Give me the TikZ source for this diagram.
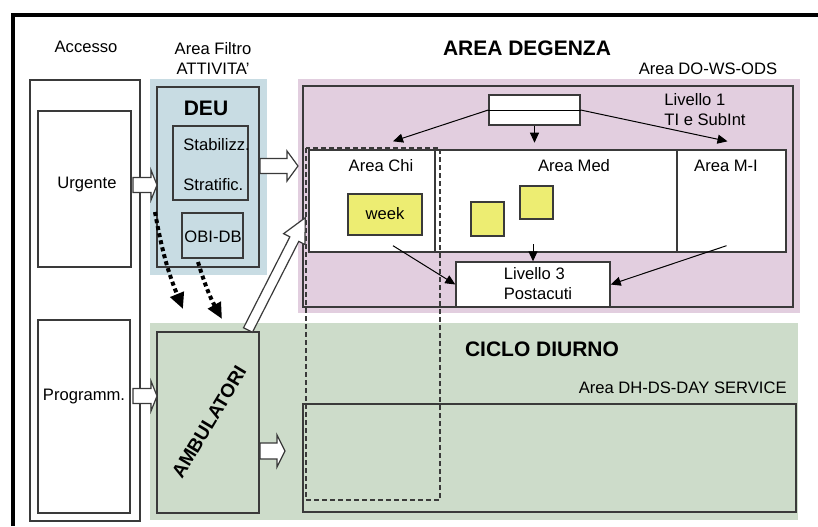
\documentclass[tikz,border=0pt]{standalone}
\usepackage{fontspec}
\setmainfont{Liberation Sans}
\usetikzlibrary{arrows.meta, positioning, fit, calc}
\definecolor{deufill}{HTML}{C8DCE3}
\definecolor{degfill}{HTML}{E2CEDF}
\definecolor{dayfill}{HTML}{CDDCCA}
\definecolor{postit}{HTML}{EDED72}
\definecolor{boxline}{HTML}{3A3A3A}
\tikzset{
  bg/.style    = {inner sep=0pt, draw=none},
  box/.style   = {draw=boxline, line width=0.7pt, inner sep=0pt},
  wbox/.style  = {box, fill=white},
  note/.style  = {box, fill=postit},
  txt/.style   = {font=\fontsize{8.3}{10}\selectfont, inner sep=0pt},
  hdr/.style   = {font=\fontsize{10.5}{12}\selectfont\bfseries, inner sep=0pt},
  thinarr/.style = {-{Triangle[length=5pt, width=4.5pt]}, line width=0.5pt, draw=black},
  dotarr/.style  = {-{Triangle[length=8pt, width=7pt]}, line width=2pt,
                    dash pattern=on 2pt off 1.6pt, line cap=butt},
  fatarr/.style  = {draw=boxline, fill=white, line width=0.6pt, line join=miter},
}
% start, angle, length, shaft half, head half, head length
\newcommand{\fatarrow}[6]{%
  \draw[fatarr, shift={(#1)}, rotate=#2]
    (0,-#4) -- ({#3-#6},-#4) -- ({#3-#6},-#5) -- (#3,0) -- ({#3-#6},#5)
    -- ({#3-#6},#4) -- (0,#4) -- cycle;}
\begin{document}
\begin{tikzpicture}[x=0.5pt, y=-0.5pt]
  \useasboundingbox (0,0) rectangle (818,526);
  \fill[white] (0,0) rectangle (818,526);
  % outer frame
  \draw[line width=2pt] (13,526) -- (13,15) -- (818,15);
  % coloured areas
  \node[bg, fit={(150,79) (267,275)}, fill=deufill] (deubg) {};
  \node[bg, fit={(298,79) (800,313)}, fill=degfill] (degbg) {};
  \node[bg, fit={(150,323) (798,520)}, fill=dayfill] (daybg) {};
  % accesso column
  \node[box, fit={(30,80) (140,521)}] (acc) {};
  \node[box, fit={(38,111) (131,267)}] (urg) {};
  \node[box, fit={(38,320) (130,513)}] (prog) {};
  \node[txt] at (86,47) {Accesso};
  \node[txt] at (87,185) {Urgente};
  \node[txt] at (84,396) {Programm.};
  % area filtro
  \node[txt, align=center] at (213,58) {Area Filtro\\ATTIVITA'};
  \node[box, fit={(157,87) (259,267)}] (deu) {};
  \node[hdr] at (206,108) {DEU};
  \node[box, fit={(173,126) (248,200)}] (stab) {};
  \node[txt, anchor=west] at (183,145) {Stabilizz.};
  \node[txt, anchor=west] at (183,185) {Stratific.};
  \node[box, fit={(182,213) (243,258)}] (obi) {};
  \node[txt] at (213,237) {OBI-DB};
  % area degenza
  \node[hdr] at (527,48) {AREA DEGENZA};
  \node[txt] at (708,69) {Area DO-WS-ODS};
  \node[box, fit={(303,86) (793,307)}] (deg) {};
  \node[wbox, fit={(489,95) (580,125)}] (lv1) {};
  \draw[line width=0.5pt] (lv1.west) -- (lv1.east);
  \node[txt, align=left, anchor=west] at (664,110) {Livello 1\\TI e SubInt};
  \node[wbox, fit={(309,150) (435,252)}] (chi) {};
  \node[wbox, fit={(435,150) (677,252)}] (med) {};
  \node[wbox, fit={(677,150) (786,252)}] (mi) {};
  \node[txt] at (381,166) {Area Chi};
  \node[txt] at (574,166) {Area Med};
  \node[txt] at (726,166) {Area M-I};
  \node[note, fit={(348,194) (422,235)}] (week) {};
  \node[txt] at (385,214) {week};
  \node[note, fit={(471,202) (504,236)}] (sqa) {};
  \node[note, fit={(520,186) (553,219)}] (sqb) {};
  \node[wbox, fit={(456,262) (610,307)}] (lv3) {};
  \node[txt, align=left] at (538,284) {Livello 3\\Postacuti};
  \draw[thinarr] (lv1.west) -- ($(chi.north)+(21,-8)$);
  \draw[thinarr] (lv1.south) -- ($(lv1.south)+(0,17)$);
  \draw[thinarr] (lv1.east) -- ($(mi.north)+(-4,-8)$);
  \draw[thinarr] ($(chi.south)+(21,-7)$) -- (lv3.west);
  \draw[thinarr] ($(lv3.north)+(0,-17)$) -- (lv3.north);
  \draw[thinarr] ($(mi.south)+(-5,-7)$) -- (lv3.east);
  % ciclo diurno
  \node[hdr] at (542,349) {CICLO DIURNO};
  \node[txt, anchor=east] at (787,388) {Area DH-DS-DAY SERVICE};
  \node[box, fit={(157,332) (259,513)}] (amb) {};
  \node[hdr, font=\fontsize{9.5}{11}\selectfont\bfseries, rotate=59] at (209,422) {AMBULATORI};
  \node[box, fit={(303,404) (796,512)}] (dh) {};
  % dashed link
  \draw[boxline, line width=0.6pt, dash pattern=on 2.5pt off 1.5pt] (306,148) rectangle (440,500);
  % block arrows
  \fatarrow{133,185}{0}{24}{7.5}{15}{6}
  \fatarrow{260,166}{0}{38}{7.5}{15}{11}
  \fatarrow{133,396}{0}{24}{7.5}{15}{6}
  \fatarrow{260,451}{0}{25}{8}{16}{8}
  \fatarrow{248,330}{63}{126}{5}{12}{24}
  % dotted arrows
  \coordinate (d1) at (155,212);
  \coordinate (d1e) at (183,309);
  \coordinate (d2) at (198,262);
  \coordinate (d2e) at (222,319);
  \draw[dotarr] (d1) to[bend right=6] (d1e);
  \draw[dotarr] (d2) to[bend right=6] (d2e);
\end{tikzpicture}
\end{document}
